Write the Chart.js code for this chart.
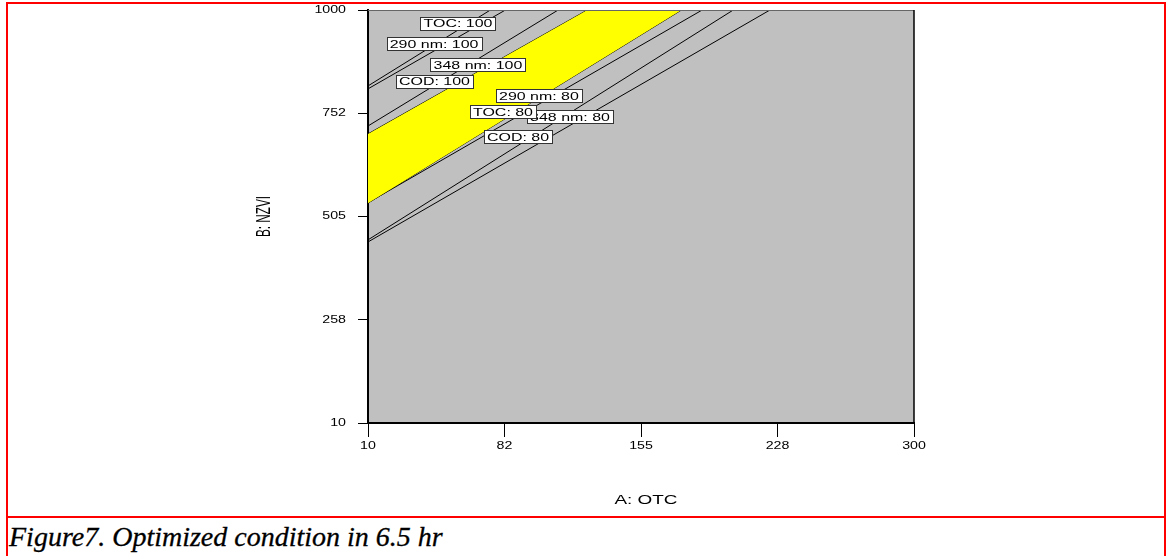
<!DOCTYPE html>
<html>
<head>
<meta charset="utf-8">
<script src="https://cdn.jsdelivr.net/npm/chart.js@4/dist/chart.umd.min.js"></script>
<style>
  body { margin: 0; background: #fff; width: 1166px; height: 556px; overflow: hidden; position: relative; }
  #frame { position: absolute; left: 6px; top: 2px; width: 1156px; height: 560px;
           border-top: 2px solid #f00; border-left: 2px solid #f00; border-right: 2px solid #f00; }
  #rule { position: absolute; left: 6px; top: 516px; width: 1160px; height: 2px; background: #f00; }
  #chart-div { position: absolute; left: 0; top: 0; width: 1166px; height: 517px; }
  #caption { position: absolute; left: 9px; top: 523px; font: italic 28px "Liberation Serif", "Times New Roman", serif;
             line-height: 28px; color: #000; white-space: nowrap; -webkit-text-stroke: 0.3px #000; }
</style>
</head>
<body>
<div id="frame"></div>
<div id="rule"></div>
<div id="chart-div"><canvas id="myChart" width="1166" height="517"></canvas></div>
<div id="caption">Figure7. Optimized condition in 6.5 hr</div>

<script>
// Axis ticks
const xTicks = [10, 82.5, 155, 227.5, 300]
const xTickLabels = ['10', '82', '155', '228', '300']
const yTicks = [10, 257.5, 505, 752.5, 1000]
const yTickLabels = ['10', '258', '505', '752', '1000']

// Contour lines: start at A = 10 (value of B), end at B = 1000 (value of A)
const lineNames = ['TOC: 100', '290 nm: 100', '348 nm: 100', 'COD: 100', 'TOC: 80', '290 nm: 80', '348 nm: 80', 'COD: 80']
const lineStartB = [818, 811, 722, 703, 537, 538, 449, 444]
const lineEndA = [75, 83, 111, 126.5, 176.5, 187.5, 204, 223.5]

// Contour label anchors (A, B)
const labelNames = ['TOC: 100', '290 nm: 100', '348 nm: 100', 'COD: 100', '290 nm: 80', '348 nm: 80', 'TOC: 80', 'COD: 80']
const labelA = [57.8, 45.1, 68.4, 45.3, 100.8, 117.3, 81.7, 89.7]
const labelB = [968.8, 919.7, 868.2, 829.8, 793.9, 744.7, 755.5, 695.6]

// Optimal (yellow) region lies between COD: 100 and TOC: 80
const upperIdx = lineNames.indexOf('COD: 100')
const lowerIdx = lineNames.indexOf('TOC: 80')

const FONT = '"Liberation Sans", Arial, sans-serif'

// Draw text squeezed/stretched like the exported figure
function drawStretched(ctx, str, x, y, size, align, sx, sy, rotate){
    ctx.save()
    ctx.translate(x, y)
    if (rotate){
        ctx.rotate(-Math.PI / 2)
    }
    ctx.scale(sx, sy)
    ctx.font = size + 'px ' + FONT
    ctx.fillStyle = '#000'
    ctx.textBaseline = 'middle'
    ctx.textAlign = align
    ctx.fillText(str, 0, 0)
    ctx.restore()
}

const overlayPlugin = {
    id: 'overlayPlugin',
    beforeDraw(chart){
        const a = chart.chartArea
        const ctx = chart.ctx
        ctx.save()
        ctx.fillStyle = '#c0c0c0'
        ctx.fillRect(a.left, a.top, a.right - a.left, a.bottom - a.top)
        ctx.restore()
    },
    afterDatasetsDraw(chart){
        const ctx = chart.ctx
        const xs = chart.scales.x
        const ys = chart.scales.y
        for (let i=0; i<labelNames.length; i++){
            const px = xs.getPixelForValue(labelA[i])
            const py = ys.getPixelForValue(labelB[i])
            ctx.save()
            ctx.font = '11px ' + FONT
            const w = Math.round(ctx.measureText(labelNames[i]).width * 1.45 + 6)
            const h = 13
            const bx = Math.round(px - w / 2) + 0.5
            const by = Math.round(py - h / 2) + 0.5
            ctx.fillStyle = '#fff'
            ctx.fillRect(bx, by, w, h)
            ctx.strokeStyle = '#333'
            ctx.lineWidth = 1
            ctx.strokeRect(bx, by, w, h)
            ctx.restore()
            drawStretched(ctx, labelNames[i], px, py + 1, 11, 'center', 1.45, 1, false)
        }
    },
    afterDraw(chart){
        const a = chart.chartArea
        const ctx = chart.ctx
        const xs = chart.scales.x
        const ys = chart.scales.y

        // Plot frame (top and right)
        ctx.save()
        ctx.strokeStyle = '#666'
        ctx.lineWidth = 1
        ctx.beginPath()
        ctx.moveTo(a.left, a.top + 0.5)
        ctx.lineTo(a.right, a.top + 0.5)
        ctx.stroke()
        ctx.strokeStyle = '#000'
        ctx.lineWidth = 1.5
        ctx.beginPath()
        ctx.moveTo(a.right, a.top)
        ctx.lineTo(a.right, a.bottom)
        ctx.stroke()
        ctx.restore()

        // Tick labels
        for (let i=0; i<yTicks.length; i++){
            drawStretched(ctx, yTickLabels[i], a.left - 22, ys.getPixelForValue(yTicks[i]), 10, 'right', 1.42, 1, false)
        }
        for (let i=0; i<xTicks.length; i++){
            drawStretched(ctx, xTickLabels[i], xs.getPixelForValue(xTicks[i]), a.bottom + 23, 10, 'center', 1.42, 1, false)
        }

        // Axis titles
        drawStretched(ctx, 'B: NZVI', 265, (a.top + a.bottom) / 2, 15.5, 'center', 0.76, 1.25, true)
        drawStretched(ctx, 'A: OTC', (a.left + a.right) / 2 + 5, 500, 13.5, 'center', 1.4, 1, false)
    }
}

function buildDatasets(){
    let datasets = []

    // Yellow optimum region
    const region = [
        {x: 10, y: lineStartB[lowerIdx]},
        {x: 10, y: lineStartB[upperIdx]},
        {x: lineEndA[upperIdx], y: 1000},
        {x: lineEndA[lowerIdx], y: 1000}
    ]
    datasets.push({
        type: 'line',
        label: 'optimum',
        data: region,
        showLine: true,
        fill: 'shape',
        backgroundColor: '#ffff00',
        borderWidth: 0,
        pointRadius: 0
    })

    // Contour lines
    for (let i=0; i<lineNames.length; i++){
        datasets.push({
            type: 'line',
            label: lineNames[i],
            data: [{x: 10, y: lineStartB[i]}, {x: lineEndA[i], y: 1000}],
            showLine: true,
            fill: false,
            borderColor: '#000',
            borderWidth: 1,
            pointRadius: 0
        })
    }
    return datasets
}

const config = {
    type: 'scatter',
    data: { datasets: buildDatasets() },
    options: {
        responsive: false,
        animation: false,
        events: [],
        layout: { padding: { left: 358, right: 252, top: 10, bottom: 80 } },
        plugins: {
            legend: { display: false },
            tooltip: { enabled: false }
        },
        scales: {
            x: {
                type: 'linear',
                min: 10,
                max: 300,
                afterBuildTicks: function(scale){ scale.ticks = xTicks.map(v => ({value: v})) },
                ticks: { display: false },
                grid: { drawOnChartArea: false, drawTicks: true, tickLength: 14, color: '#000', lineWidth: 1 },
                border: { display: true, color: '#000', width: 2 }
            },
            y: {
                type: 'linear',
                min: 10,
                max: 1000,
                afterBuildTicks: function(scale){ scale.ticks = yTicks.map(v => ({value: v})) },
                ticks: { display: false },
                grid: { drawOnChartArea: false, drawTicks: true, tickLength: 10, color: '#000', lineWidth: 1 },
                border: { display: true, color: '#000', width: 2 }
            }
        }
    },
    plugins: [overlayPlugin]
}

document.addEventListener("DOMContentLoaded", function(){
    new Chart(document.getElementById('myChart'), config)
})
</script>
</body>
</html>
